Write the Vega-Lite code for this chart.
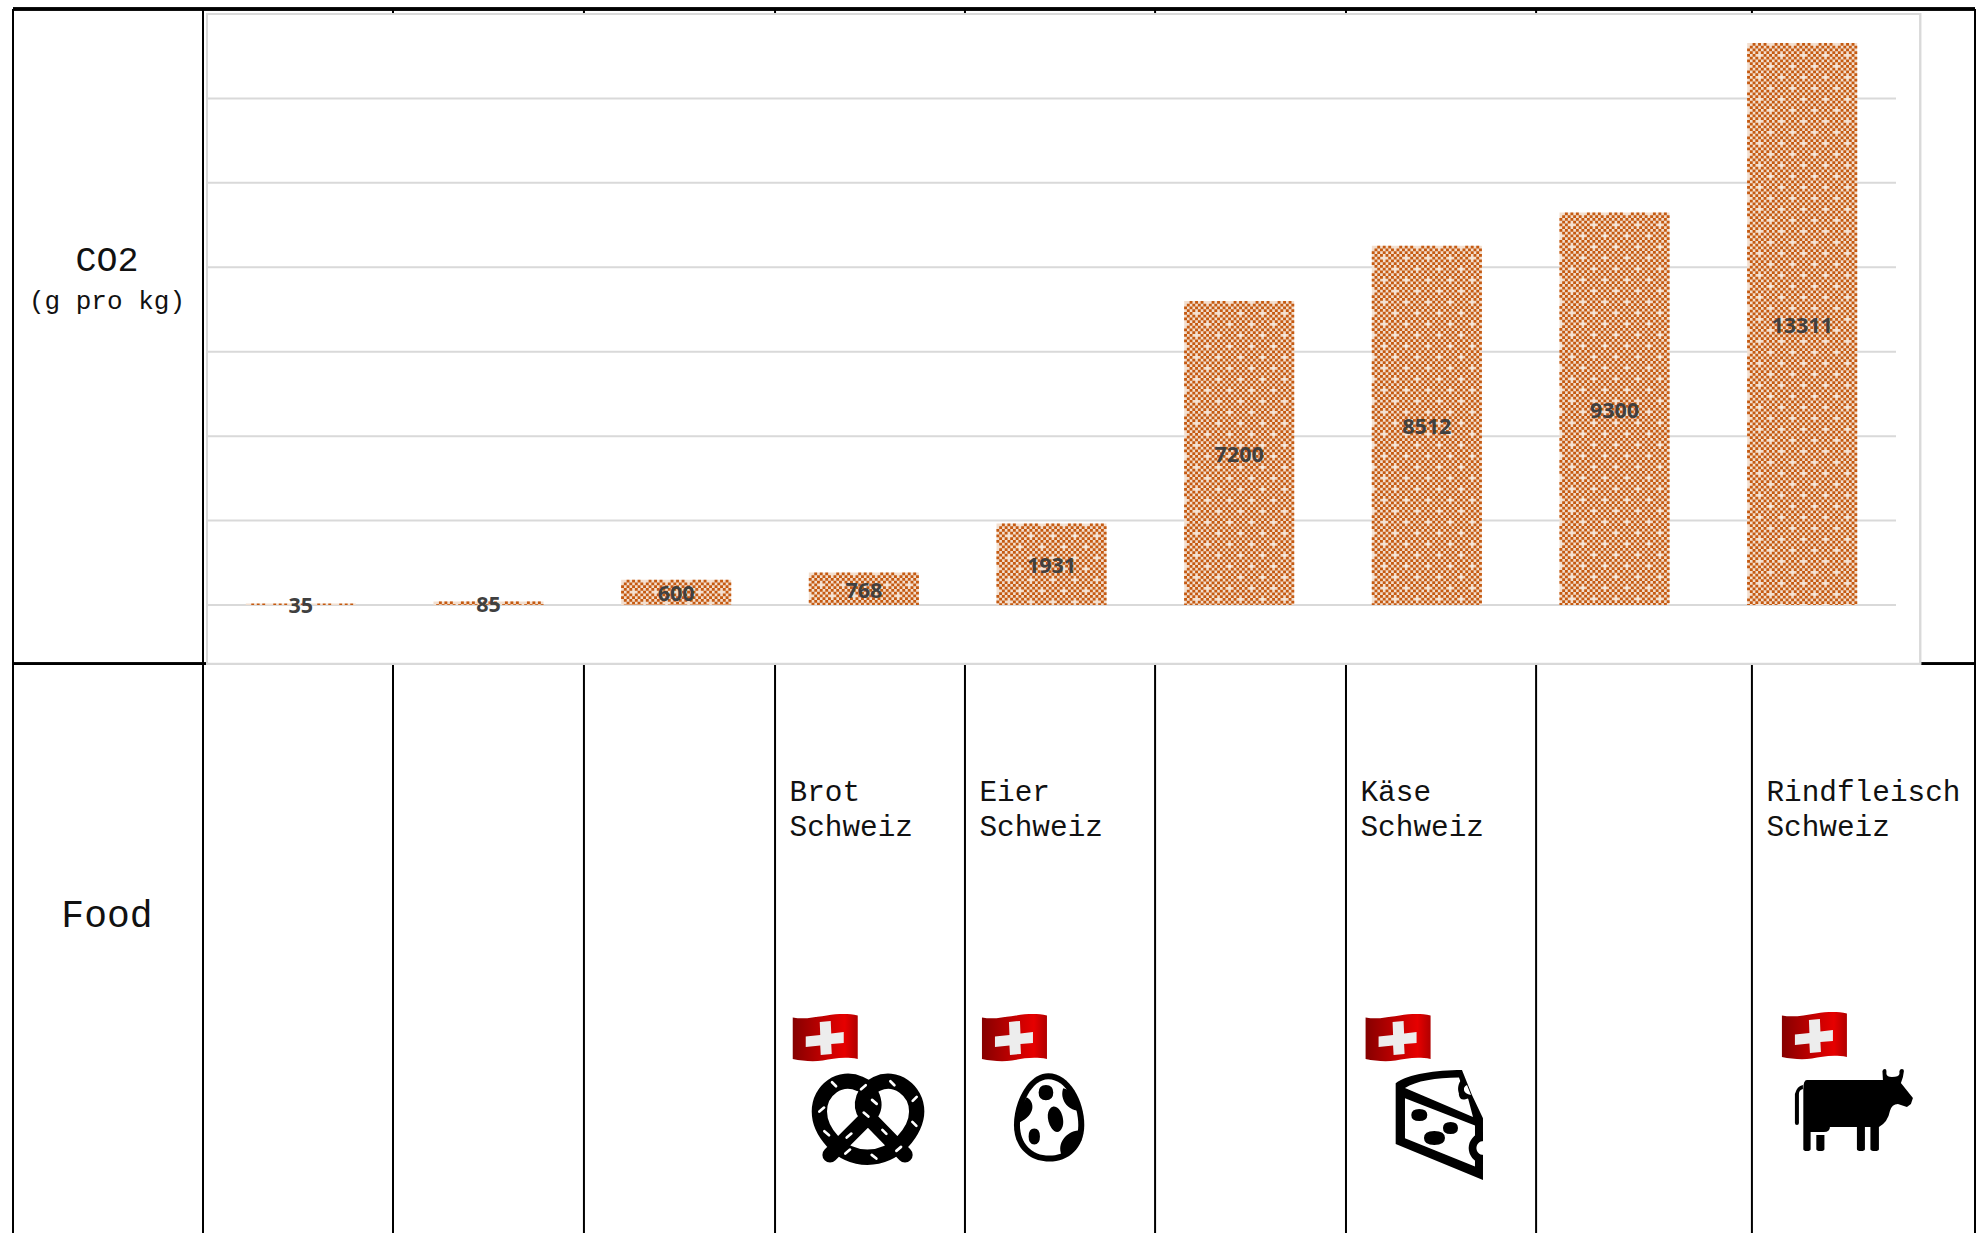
{
"$schema":"https://vega.github.io/schema/vega-lite/v6.json",
"width":1977,"height":1233,"padding":0,"autosize":"none","background":"#ffffff",
"config":{"view":{"stroke":null},"rule":{"stroke":"#C55A11","strokeWidth":2.9}},
"datasets":{
"foods":[
{"rank":1,"co2":35,"edge":9.684},
{"rank":2,"co2":85,"edge":19.368},
{"rank":3,"co2":600,"edge":29.1},
{"rank":4,"co2":768,"edge":38.84,"food":"Brot","origin":"Schweiz"},
{"rank":5,"co2":1931,"edge":48.52,"food":"Eier","origin":"Schweiz"},
{"rank":6,"co2":7200,"edge":58.21},
{"rank":7,"co2":8512,"edge":67.94,"food":"Käse","origin":"Schweiz"},
{"rank":8,"co2":9300,"edge":77.63},
{"rank":9,"co2":13311,"edge":88.63,"food":"Rindfleisch","origin":"Schweiz"}],
"lines":[{"edge":0},{"edge":9.684},{"edge":19.368},{"edge":29.1},{"edge":38.84},{"edge":48.52},{"edge":58.21},{"edge":67.94},{"edge":77.63},{"edge":88.63},{"edge":100}],
"ticks":[{"tick":0},{"tick":2000},{"tick":4000},{"tick":6000},{"tick":8000},{"tick":10000},{"tick":12000}],
"heads":[{"head":"CO2","row":21.4,"fs":35},{"head":"(g pro kg)","row":24.55,"fs":26},{"head":"Food","row":75.0,"fs":38}]
},
"data":{"name":"foods"},
"resolve":{"scale":{"x":"independent","y":"independent"}},
"layer":[
{"layer":[
 {"data":{"name":"lines"},"mark":{"type":"rule","stroke":"#000000","strokeWidth":2},
  "encoding":{"x":{"field":"edge","type":"quantitative","axis":null,"scale":{"domain":[0,100],"range":[13,1975]}},
   "y":{"datum":0,"type":"quantitative","axis":null,"scale":{"domain":[0,100],"range":[9,1233]}},"y2":{"datum":100}}},
 {"mark":{"type":"rule","stroke":"#000000","strokeWidth":2.4},
  "encoding":{"x":{"datum":0,"type":"quantitative","axis":null,"scale":{"domain":[0,100],"range":[13,1975]}},"x2":{"datum":100},
   "y":{"datum":0,"type":"quantitative","axis":null,"scale":{"domain":[0,100],"range":[9,1233]}}}},
 {"mark":{"type":"rule","stroke":"#000000","strokeWidth":2},
  "encoding":{"x":{"datum":0,"type":"quantitative","axis":null,"scale":{"domain":[0,100],"range":[13,1975]}},"x2":{"datum":100},
   "y":{"datum":53.5,"type":"quantitative","axis":null,"scale":{"domain":[0,100],"range":[9,1233]}}}},
 {"mark":{"type":"rect","fill":"#ffffff","stroke":"#D9D9D9","strokeWidth":2},
  "encoding":{"x":{"datum":9.888,"type":"quantitative","axis":null,"scale":{"domain":[0,100],"range":[13,1975]}},"x2":{"datum":97.2},
   "y":{"datum":0.41,"type":"quantitative","axis":null,"scale":{"domain":[0,100],"range":[9,1233]}},"y2":{"datum":53.5}}},
 {"data":{"name":"heads"},"mark":{"type":"text","font":"Liberation Mono","align":"center","baseline":"alphabetic","color":"#111111"},
  "encoding":{"x":{"datum":4.79,"type":"quantitative","axis":null,"scale":{"domain":[0,100],"range":[13,1975]}},
   "y":{"field":"row","type":"quantitative","axis":null,"scale":{"domain":[0,100],"range":[9,1233]}},
   "text":{"field":"head"},"size":{"field":"fs","type":"quantitative","scale":null}}},
 {"transform":[{"filter":"isValid(datum.food)"}],"mark":{"type":"text","font":"Liberation Mono","fontSize":29.4,"align":"left","baseline":"alphabetic","dx":14.5,"color":"#111111"},
  "encoding":{"x":{"field":"edge","type":"quantitative","axis":null,"scale":{"domain":[0,100],"range":[13,1975]}},
   "y":{"datum":64.7,"type":"quantitative","axis":null,"scale":{"domain":[0,100],"range":[9,1233]}},"text":{"field":"food"}}},
 {"transform":[{"filter":"isValid(datum.food)"}],"mark":{"type":"text","font":"Liberation Mono","fontSize":29.4,"align":"left","baseline":"alphabetic","dx":14.5,"color":"#111111"},
  "encoding":{"x":{"field":"edge","type":"quantitative","axis":null,"scale":{"domain":[0,100],"range":[13,1975]}},
   "y":{"datum":67.56,"type":"quantitative","axis":null,"scale":{"domain":[0,100],"range":[9,1233]}},"text":{"field":"origin"}}},
 {"transform":[{"filter":"isValid(datum.food)"}],
  "encoding":{"x":{"field":"edge","type":"quantitative","axis":null,"scale":{"domain":[0,100],"range":[13,1975]}},
   "y":{"datum":82.1,"type":"quantitative","axis":null,"scale":{"domain":[0,100],"range":[9,1233]}}},
  "layer":[
   {"transform":[{"filter":"datum.food==='Brot'"}],"layer":[
    {"mark":{"type":"point","shape":"M0,3.5 C12,6 22,3 34,1.5 C45,0 55,-0.5 65,1.5 L65,45 C50,42.5 40,45 30,46.5 C20,48 10,47 0,45 Z","size":4,"filled":true,"opacity":1,"strokeWidth":0,"xOffset":17.7,"fill":{"gradient":"linear","x1":0,"y1":0,"x2":1,"y2":0,"stops":[{"offset":0,"color":"#860000"},{"offset":0.5,"color":"#C40000"},{"offset":0.8,"color":"#E60000"},{"offset":1,"color":"#B00000"}]}}},
    {"mark":{"type":"point","shape":"M27,8 L38,7 L38.5,19.5 L51,18 L51,29 L38.5,30 L39,40 L28,41 L27.5,31.5 L13,33 L13,22.5 L27.5,21 Z","size":4,"filled":true,"opacity":1,"strokeWidth":0,"xOffset":17.7,"fill":"#EDEDED"}},
    {"mark":{"type":"point","shape":"M210,525 L330,405 C355,375 335,325 300,312 C240,285 178,330 178,395 C178,450 235,532 322,532 C410,532 470,450 470,395 C470,330 405,285 350,312 C312,330 295,375 318,405 L435,525","size":0.4444,"filled":false,"fill":"transparent","stroke":"#000000","strokeWidth":15.3,"strokeCap":"round","strokeJoin":"round","opacity":1,"xOffset":-15,"yOffset":-34}},
    {"mark":{"type":"point","shape":"M216,307 L228,319 M303,328 L317,316 M391,304 L403,316 M458,363 L470,351 M336,360 L350,372 M178,395 L192,383 M311,398 L325,410 M457,426 L469,438 M193,454 L207,466 M260,473 L274,461 M367,450 L379,462 M256,521 L270,509 M335,525 L349,536 M409,513 L423,501","size":0.4444,"filled":false,"fill":"transparent","stroke":"#ffffff","strokeWidth":2.7,"strokeCap":"round","opacity":1,"xOffset":-15,"yOffset":-34}}
   ]},
   {"transform":[{"filter":"datum.food==='Eier'"}],"layer":[
    {"mark":{"type":"point","shape":"M0,3.5 C12,6 22,3 34,1.5 C45,0 55,-0.5 65,1.5 L65,45 C50,42.5 40,45 30,46.5 C20,48 10,47 0,45 Z","size":4,"filled":true,"opacity":1,"strokeWidth":0,"xOffset":17,"fill":{"gradient":"linear","x1":0,"y1":0,"x2":1,"y2":0,"stops":[{"offset":0,"color":"#860000"},{"offset":0.5,"color":"#C40000"},{"offset":0.8,"color":"#E60000"},{"offset":1,"color":"#B00000"}]}}},
    {"mark":{"type":"point","shape":"M27,8 L38,7 L38.5,19.5 L51,18 L51,29 L38.5,30 L39,40 L28,41 L27.5,31.5 L13,33 L13,22.5 L27.5,21 Z","size":4,"filled":true,"opacity":1,"strokeWidth":0,"xOffset":17,"fill":"#EDEDED"}},
    {"mark":{"type":"point","shape":"M865,280 C930,280 973,365 973,435 C973,505 925,545 868,545 C805,545 762,500 762,435 C762,365 805,280 865,280 Z","size":0.4444,"filled":true,"fill":"#000000","strokeWidth":0,"opacity":1,"xOffset":-205,"yOffset":-34}},
    {"mark":{"type":"point","shape":"M865,298 C920,298 955,375 955,435 C955,495 915,527 868,527 C815,527 780,490 780,435 C780,375 815,298 865,298 Z","size":0.4444,"filled":true,"fill":"#ffffff","strokeWidth":0,"opacity":1,"xOffset":-205,"yOffset":-34}},
    {"mark":{"type":"point","shape":"M836,338 Q836,315 858,315 Q880,315 880,338 Q880,361 858,361 Q836,361 836,338 Z M880,380 C905,378 915,425 908,440 C900,462 885,460 875,445 C858,420 860,385 880,380 Z M806,470 Q806,446 823,446 Q840,446 840,470 Q840,494 823,494 Q806,494 806,470 Z M800,352 C825,365 828,405 778,428 L770,400 Z M910,325 C900,350 915,385 950,392 L965,395 L940,335 Z M955,452 C920,455 890,490 905,525 L935,515 L965,480 Z","size":0.4444,"filled":true,"fill":"#000000","strokeWidth":0,"opacity":1,"xOffset":-205,"yOffset":-34}}
   ]},
   {"transform":[{"filter":"datum.food==='Käse'"}],"layer":[
    {"mark":{"type":"point","shape":"M0,3.5 C12,6 22,3 34,1.5 C45,0 55,-0.5 65,1.5 L65,45 C50,42.5 40,45 30,46.5 C20,48 10,47 0,45 Z","size":4,"filled":true,"opacity":1,"strokeWidth":0,"xOffset":19.6,"fill":{"gradient":"linear","x1":0,"y1":0,"x2":1,"y2":0,"stops":[{"offset":0,"color":"#860000"},{"offset":0.5,"color":"#C40000"},{"offset":0.8,"color":"#E60000"},{"offset":1,"color":"#B00000"}]}}},
    {"mark":{"type":"point","shape":"M27,8 L38,7 L38.5,19.5 L51,18 L51,29 L38.5,30 L39,40 L28,41 L27.5,31.5 L13,33 L13,22.5 L27.5,21 Z","size":4,"filled":true,"opacity":1,"strokeWidth":0,"xOffset":19.6,"fill":"#EDEDED"}},
    {"mark":{"type":"point","shape":"M49.7,69.3 C62,60 90,56 116,56 L122,71 L126,81 L137,104.3 L137,166 L49.7,130 Z","size":4,"filled":true,"fill":"#000000","strokeWidth":0,"opacity":1}},
    {"mark":{"type":"point","shape":"M59,74 C70,67 90,63.5 113,63.5 L116,72 C110,78 113,90 122,84 L127,103 Z M59,84.3 L129,111.7 L129,152.7 L59,124.3 Z","size":4,"filled":true,"fill":"#ffffff","strokeWidth":0,"opacity":1}},
    {"mark":{"type":"point","shape":"M137,118 C118,122 118,146 137,150 Z M117,64 C108,72 112,88 125,84 L120,70 Z M65.3,101 Q65.3,95 73.3,95 Q81.3,95 81.3,101 Q81.3,107 73.3,107 Q65.3,107 65.3,101 Z M97,114 Q97,108 104.6,108 Q112,108 112,114 Q112,120 104.6,120 Q97,120 97,114 Z M78,124 Q78,117 88.3,117 Q99,117 99,124 Q99,131 88.3,131 Q78,131 78,124 Z","size":4,"filled":true,"fill":"#000000","strokeWidth":0,"opacity":1}},
    {"mark":{"type":"point","shape":"M138,127 C128,127 128,141 138,141 Z M121,71 C116,73 117,80 125,81 Z","size":4,"filled":true,"fill":"#ffffff","strokeWidth":0,"opacity":1}}
   ]},
   {"transform":[{"filter":"datum.food==='Rindfleisch'"}],"layer":[
    {"mark":{"type":"point","shape":"M0,3.5 C12,6 22,3 34,1.5 C45,0 55,-0.5 65,1.5 L65,45 C50,42.5 40,45 30,46.5 C20,48 10,47 0,45 Z","size":4,"filled":true,"opacity":1,"strokeWidth":0,"xOffset":30,"yOffset":-2,"fill":{"gradient":"linear","x1":0,"y1":0,"x2":1,"y2":0,"stops":[{"offset":0,"color":"#860000"},{"offset":0.5,"color":"#C40000"},{"offset":0.8,"color":"#E60000"},{"offset":1,"color":"#B00000"}]}}},
    {"mark":{"type":"point","shape":"M27,8 L38,7 L38.5,19.5 L51,18 L51,29 L38.5,30 L39,40 L28,41 L27.5,31.5 L13,33 L13,22.5 L27.5,21 Z","size":4,"filled":true,"opacity":1,"strokeWidth":0,"xOffset":30,"yOffset":-2,"fill":"#EDEDED"}},
    {"mark":{"type":"point","shape":"M55,66 L131,66 L130.5,57 Q131,55 133,55 Q134.5,55 134.5,57 L134.5,60 Q135,63 140,63 Q147,63 147.5,60 L147.5,57 Q148,55 150,55 Q152,55 152,57 L151,63 L149,69 L161,84 L159,90 L155,93 L146,90 Q140,90 138,97 Q136,108 127,113 L127,135 Q127,137 123,137 Q118.5,137 118.5,135 L118.5,113 L113,113 L113,135 Q113,137 109,137 Q105,137 105,135 L105,113 L78,113 Q78,118 72,118 L58.7,118 L58.7,135 Q58.7,137 55,137 Q51.4,137 51.4,135 L51.4,75 Q51.4,66 55,66 Z M64.4,121 L72.5,121 L72.5,135 Q72.5,137 68.5,137 Q64.4,137 64.4,135 Z M51,71 Q45,72 43,80 L43,109 Q43,111 45,111 Q47,111 47,109 L47,80 Q47,76 51,75 Z","size":4,"filled":true,"fill":"#000000","strokeWidth":0,"opacity":1}}
   ]}
  ]}
]},
{"data":{"name":"ticks"},"mark":{"type":"rule","stroke":"#D9D9D9","strokeWidth":2},
 "encoding":{"x":{"datum":0,"type":"quantitative","axis":null,"scale":{"domain":[0,1],"range":[207,1896]}},"x2":{"datum":1},
  "y":{"field":"tick","type":"quantitative","axis":null,"scale":{"domain":[0,14000],"range":[605,14]}}}},
{"encoding":{"x":{"field":"rank","type":"ordinal","axis":null,"scale":{"type":"band","domain":[1,2,3,4,5,6,7,8,9],"range":[207,1896],"paddingInner":0,"paddingOuter":0}},
  "y":{"field":"co2","type":"quantitative","axis":null,"scale":{"domain":[0,14000],"range":[605,14]}}},
 "layer":[
 {"encoding":{"y2":{"datum":0}},"layer":[
  {"mark":{"type":"bar","size":110,"color":"#F3DFCF","opacity":1}},
  {"mark":{"type":"rule","xOffset":-53.625,"strokeDash":[2.75,2.75,2.75,2.75,2.75,8.25],"strokeDashOffset":16.5}},
  {"mark":{"type":"rule","xOffset":-50.875,"strokeDash":[2.75,2.75],"strokeDashOffset":2.75}},
  {"mark":{"type":"rule","xOffset":-48.125,"strokeDash":[2.75,2.75],"strokeDashOffset":0}},
  {"mark":{"type":"rule","xOffset":-45.375,"strokeDash":[2.75,2.75],"strokeDashOffset":2.75}},
  {"mark":{"type":"rule","xOffset":-42.625,"strokeDash":[2.75,2.75,2.75,2.75,2.75,8.25],"strokeDashOffset":5.5}},
  {"mark":{"type":"rule","xOffset":-39.875,"strokeDash":[2.75,2.75],"strokeDashOffset":2.75}},
  {"mark":{"type":"rule","xOffset":-37.125,"strokeDash":[2.75,2.75],"strokeDashOffset":0}},
  {"mark":{"type":"rule","xOffset":-34.375,"strokeDash":[2.75,2.75],"strokeDashOffset":2.75}},
  {"mark":{"type":"rule","xOffset":-31.625,"strokeDash":[2.75,2.75,2.75,2.75,2.75,8.25],"strokeDashOffset":16.5}},
  {"mark":{"type":"rule","xOffset":-28.875,"strokeDash":[2.75,2.75],"strokeDashOffset":2.75}},
  {"mark":{"type":"rule","xOffset":-26.125,"strokeDash":[2.75,2.75],"strokeDashOffset":0}},
  {"mark":{"type":"rule","xOffset":-23.375,"strokeDash":[2.75,2.75],"strokeDashOffset":2.75}},
  {"mark":{"type":"rule","xOffset":-20.625,"strokeDash":[2.75,2.75,2.75,2.75,2.75,8.25],"strokeDashOffset":5.5}},
  {"mark":{"type":"rule","xOffset":-17.875,"strokeDash":[2.75,2.75],"strokeDashOffset":2.75}},
  {"mark":{"type":"rule","xOffset":-15.125,"strokeDash":[2.75,2.75],"strokeDashOffset":0}},
  {"mark":{"type":"rule","xOffset":-12.375,"strokeDash":[2.75,2.75],"strokeDashOffset":2.75}},
  {"mark":{"type":"rule","xOffset":-9.625,"strokeDash":[2.75,2.75,2.75,2.75,2.75,8.25],"strokeDashOffset":16.5}},
  {"mark":{"type":"rule","xOffset":-6.875,"strokeDash":[2.75,2.75],"strokeDashOffset":2.75}},
  {"mark":{"type":"rule","xOffset":-4.125,"strokeDash":[2.75,2.75],"strokeDashOffset":0}},
  {"mark":{"type":"rule","xOffset":-1.375,"strokeDash":[2.75,2.75],"strokeDashOffset":2.75}},
  {"mark":{"type":"rule","xOffset":1.375,"strokeDash":[2.75,2.75,2.75,2.75,2.75,8.25],"strokeDashOffset":5.5}},
  {"mark":{"type":"rule","xOffset":4.125,"strokeDash":[2.75,2.75],"strokeDashOffset":2.75}},
  {"mark":{"type":"rule","xOffset":6.875,"strokeDash":[2.75,2.75],"strokeDashOffset":0}},
  {"mark":{"type":"rule","xOffset":9.625,"strokeDash":[2.75,2.75],"strokeDashOffset":2.75}},
  {"mark":{"type":"rule","xOffset":12.375,"strokeDash":[2.75,2.75,2.75,2.75,2.75,8.25],"strokeDashOffset":16.5}},
  {"mark":{"type":"rule","xOffset":15.125,"strokeDash":[2.75,2.75],"strokeDashOffset":2.75}},
  {"mark":{"type":"rule","xOffset":17.875,"strokeDash":[2.75,2.75],"strokeDashOffset":0}},
  {"mark":{"type":"rule","xOffset":20.625,"strokeDash":[2.75,2.75],"strokeDashOffset":2.75}},
  {"mark":{"type":"rule","xOffset":23.375,"strokeDash":[2.75,2.75,2.75,2.75,2.75,8.25],"strokeDashOffset":5.5}},
  {"mark":{"type":"rule","xOffset":26.125,"strokeDash":[2.75,2.75],"strokeDashOffset":2.75}},
  {"mark":{"type":"rule","xOffset":28.875,"strokeDash":[2.75,2.75],"strokeDashOffset":0}},
  {"mark":{"type":"rule","xOffset":31.625,"strokeDash":[2.75,2.75],"strokeDashOffset":2.75}},
  {"mark":{"type":"rule","xOffset":34.375,"strokeDash":[2.75,2.75,2.75,2.75,2.75,8.25],"strokeDashOffset":16.5}},
  {"mark":{"type":"rule","xOffset":37.125,"strokeDash":[2.75,2.75],"strokeDashOffset":2.75}},
  {"mark":{"type":"rule","xOffset":39.875,"strokeDash":[2.75,2.75],"strokeDashOffset":0}},
  {"mark":{"type":"rule","xOffset":42.625,"strokeDash":[2.75,2.75],"strokeDashOffset":2.75}},
  {"mark":{"type":"rule","xOffset":45.375,"strokeDash":[2.75,2.75,2.75,2.75,2.75,8.25],"strokeDashOffset":5.5}},
  {"mark":{"type":"rule","xOffset":48.125,"strokeDash":[2.75,2.75],"strokeDashOffset":2.75}},
  {"mark":{"type":"rule","xOffset":50.875,"strokeDash":[2.75,2.75],"strokeDashOffset":0}},
  {"mark":{"type":"rule","xOffset":53.625,"strokeDash":[2.75,2.75],"strokeDashOffset":2.75}}
 ]},
 {"mark":{"type":"text","font":"Open Sans","fontWeight":700,"fontSize":21.5,"color":"#404040","align":"center","baseline":"middle","dy":3},
  "encoding":{"y":{"field":"co2","type":"quantitative","stack":"zero","bandPosition":0.5,"axis":null,"scale":{"domain":[0,14000],"range":[605,14]}},"detail":{"field":"co2"},"text":{"field":"co2","type":"quantitative","format":"d"}}}
 ]}
]
}
